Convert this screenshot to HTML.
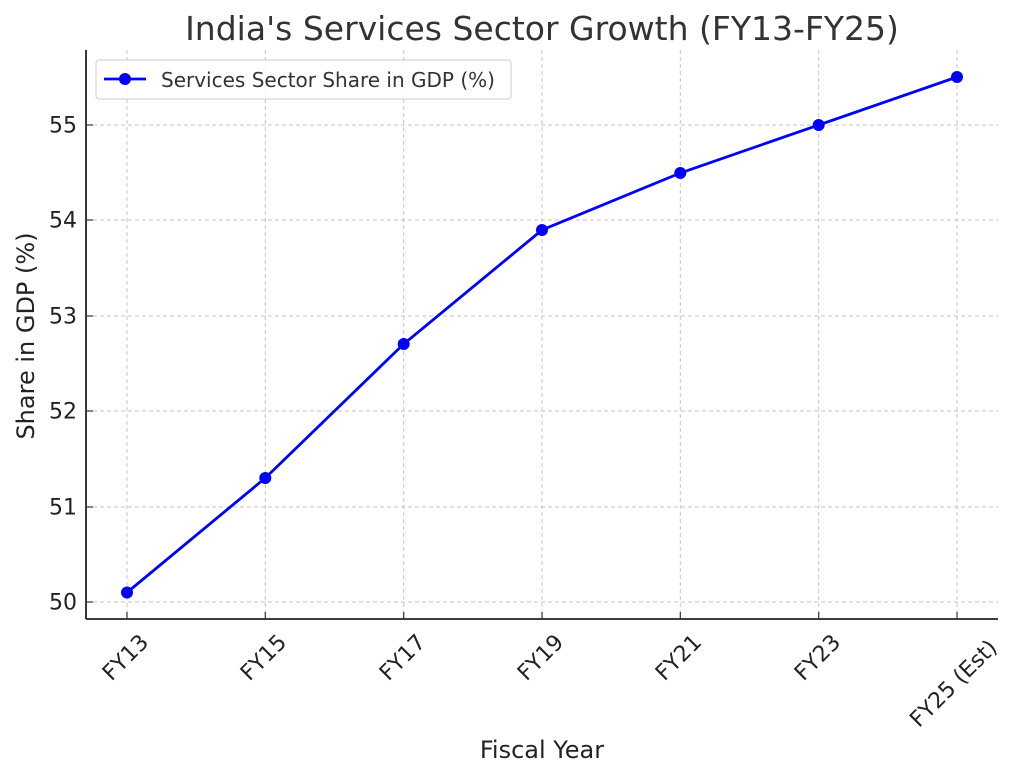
<!DOCTYPE html>
<html><head><style>body{margin:0;background:#fff}svg{display:block}</style></head><body>
<svg width="1024" height="779" xmlns="http://www.w3.org/2000/svg" font-family="DejaVu Sans, Liberation Sans, sans-serif" fill="#333">
<rect width="1024" height="779" fill="#fff"/>
<g stroke="#c4c4c4" stroke-width="1" stroke-dasharray="4,3">
<line x1="86" x2="998" y1="602" y2="602"/><line x1="86" x2="998" y1="507" y2="507"/><line x1="86" x2="998" y1="411" y2="411"/><line x1="86" x2="998" y1="316" y2="316"/><line x1="86" x2="998" y1="220" y2="220"/><line x1="86" x2="998" y1="125" y2="125"/>
<line y1="50" y2="618" x1="127" x2="127"/><line y1="50" y2="618" x1="265.3" x2="265.3"/><line y1="50" y2="618" x1="403.7" x2="403.7"/><line y1="50" y2="618" x1="542" x2="542"/><line y1="50" y2="618" x1="680.3" x2="680.3"/><line y1="50" y2="618" x1="818.7" x2="818.7"/><line y1="50" y2="618" x1="957" x2="957"/>
</g>
<g stroke="#222" stroke-width="1.8"><line x1="86" y1="50" x2="86" y2="619"/><line x1="86" y1="619" x2="998" y2="619"/></g>
<g stroke="#333" stroke-width="1.2">
<line x1="86" x2="93" y1="602" y2="602"/><line x1="86" x2="93" y1="507" y2="507"/><line x1="86" x2="93" y1="411" y2="411"/><line x1="86" x2="93" y1="316" y2="316"/><line x1="86" x2="93" y1="220" y2="220"/><line x1="86" x2="93" y1="125" y2="125"/>
<line y1="612" y2="619" x1="127" x2="127"/><line y1="612" y2="619" x1="265.3" x2="265.3"/><line y1="612" y2="619" x1="403.7" x2="403.7"/><line y1="612" y2="619" x1="542" x2="542"/><line y1="612" y2="619" x1="680.3" x2="680.3"/><line y1="612" y2="619" x1="818.7" x2="818.7"/><line y1="612" y2="619" x1="957" x2="957"/>
</g>
<g font-size="22" text-anchor="end" dominant-baseline="central" fill="#222">
<text x="77" y="603">50</text><text x="77" y="508">51</text><text x="77" y="412">52</text><text x="77" y="317">53</text><text x="77" y="221">54</text><text x="77" y="126">55</text>
</g>
<g font-size="22" text-anchor="middle" dominant-baseline="central" fill="#222">
<text transform="translate(126,658) rotate(-45)">FY13</text>
<text transform="translate(264,658) rotate(-45)">FY15</text>
<text transform="translate(403,658) rotate(-45)">FY17</text>
<text transform="translate(541,658) rotate(-45)">FY19</text>
<text transform="translate(679,658) rotate(-45)">FY21</text>
<text transform="translate(818,658) rotate(-45)">FY23</text>
<text transform="translate(954,684) rotate(-45)">FY25 (Est)</text>
</g>
<text x="542" y="758" font-size="24" text-anchor="middle" fill="#222">Fiscal Year</text>
<text transform="translate(34,336) rotate(-90)" font-size="24" text-anchor="middle" fill="#222">Share in GDP (%)</text>
<text x="542" y="40" font-size="33" text-anchor="middle">India's Services Sector Growth (FY13-FY25)</text>
<polyline fill="none" stroke="#0000ff" stroke-width="2.8" points="127,592.5 265.3,478 403.7,344 542,230 680.3,173 818.7,125 957,77"/>
<g fill="#0000ff"><circle cx="127" cy="592.5" r="6"/><circle cx="265.3" cy="478" r="6"/><circle cx="403.7" cy="344" r="6"/><circle cx="542" cy="230" r="6"/><circle cx="680.3" cy="173" r="6"/><circle cx="818.7" cy="125" r="6"/><circle cx="957" cy="77" r="6"/></g>
<rect x="96" y="60" width="415" height="39" rx="3" fill="#fff" fill-opacity="0.85" stroke="#ccc"/>
<line x1="104" x2="146" y1="79" y2="79" stroke="#0000ff" stroke-width="2.8"/><circle cx="125" cy="79" r="6" fill="#0000ff"/>
<text x="161" y="80" font-size="20" dominant-baseline="central">Services Sector Share in GDP (%)</text>
</svg>
</body></html>
